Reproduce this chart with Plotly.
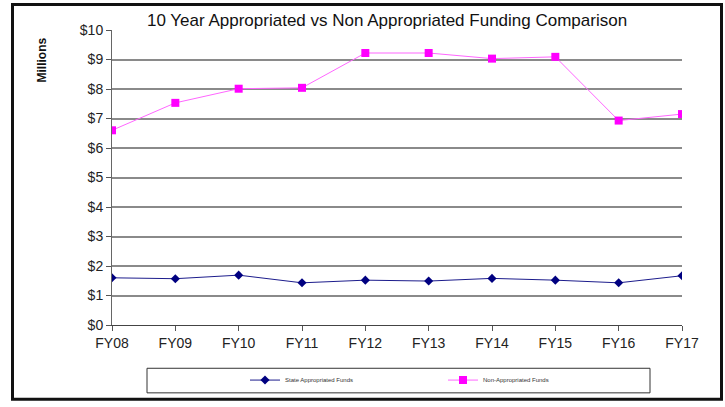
import plotly.graph_objects as go

years = ["FY08", "FY09", "FY10", "FY11", "FY12", "FY13", "FY14", "FY15", "FY16", "FY17"]
state_funds = [1.60, 1.57, 1.69, 1.43, 1.52, 1.49, 1.58, 1.52, 1.43, 1.67]
non_approp_funds = [6.60, 7.53, 8.01, 8.04, 9.22, 9.22, 9.03, 9.09, 6.93, 7.15]
y_ticks = [0, 1, 2, 3, 4, 5, 6, 7, 8, 9, 10]
y_labels = ["$" + str(v) for v in y_ticks]

W, H = 725, 407
L, R, T, B = 112, 682, 30, 330
pw, ph = R - L, B - T

def px_x(x):
    return (x - L) / pw

def px_y(y):
    return (B - y) / ph

fig = go.Figure()
fig.add_trace(go.Scatter(
    x=years, y=state_funds, mode="lines+markers", name="State Appropriated Funds",
    line=dict(color="#1c1c8c", width=1),
    marker=dict(symbol="diamond", size=7, color="#000080"),
    legend="legend",
))
fig.add_trace(go.Scatter(
    x=years, y=non_approp_funds, mode="lines+markers", name="Non-Appropriated Funds",
    line=dict(color="#ff66ff", width=1),
    marker=dict(symbol="square", size=8, color="#ff00ff"),
    legend="legend2",
))

fig.update_layout(
    width=W, height=H, autosize=False,
    margin=dict(l=L, r=W - R, t=T, b=H - B),
    paper_bgcolor="white", plot_bgcolor="white",
    font=dict(family="Liberation Sans, Arial, sans-serif", color="#222222"),
    showlegend=True,
    legend=dict(x=px_x(245), y=px_y(386), xanchor="left", yanchor="middle",
                font=dict(size=6, color="#333333"), bgcolor="rgba(0,0,0,0)",
                itemwidth=30),
    legend2=dict(x=px_x(443), y=px_y(386), xanchor="left", yanchor="middle",
                 font=dict(size=6, color="#333333"), bgcolor="rgba(0,0,0,0)",
                 itemwidth=30),
    xaxis=dict(
        type="category", range=[0, 9], showgrid=False,
        showline=True, linecolor="#444444", linewidth=1,
        ticks="outside", ticklen=5, tickcolor="#555555",
        tickfont=dict(size=14, color="#222222"), zeroline=False,
    ),
    yaxis=dict(
        range=[0, 10], tickvals=y_ticks, ticktext=y_labels,
        showgrid=True, gridcolor="#8a8a8a", gridwidth=2,
        showline=True, linecolor="#666666", linewidth=1,
        ticks="outside", ticklen=5, tickcolor="#555555",
        tickfont=dict(size=14, color="#222222"), zeroline=False,
    ),
    annotations=[
        dict(text="10 Year Appropriated vs Non Appropriated Funding Comparison",
             xref="paper", yref="paper", x=px_x(387), y=px_y(20),
             xanchor="center", yanchor="middle", showarrow=False,
             font=dict(size=17, color="#111111")),
        dict(text="<b>Millions</b>", xref="paper", yref="paper",
             x=px_x(42), y=px_y(61), xanchor="center", yanchor="middle",
             textangle=-90, showarrow=False, font=dict(size=12, color="#111111")),
    ],
    shapes=[
        dict(type="rect", xref="paper", yref="paper",
             x0=px_x(12.5), x1=px_x(721.5), y0=px_y(4), y1=px_y(405.5),
             line=dict(color="#111111", width=3), layer="below"),
        dict(type="rect", xref="paper", yref="paper",
             x0=px_x(147), x1=px_x(650), y0=px_y(374), y1=px_y(399),
             line=dict(color="#333333", width=1), layer="below"),
    ],
)

html = fig.to_html(full_html=True, include_plotlyjs=True,
                   config={"displayModeBar": False, "responsive": False},
                   default_width="725px", default_height="407px")
html = html.replace("<head>", "<head><style>html,body{margin:0;padding:0;overflow:hidden;}</style>", 1)
with open("out.html", "w", encoding="utf-8") as f:
    f.write(html)
